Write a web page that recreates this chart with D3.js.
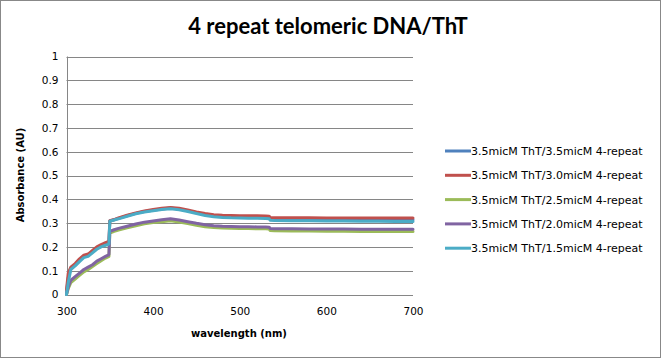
<!DOCTYPE html>
<html><head><meta charset="utf-8">
<script src="https://cdn.jsdelivr.net/npm/d3@7/dist/d3.min.js"></script>
<style>html,body{margin:0;padding:0;background:#fff;}</style>
</head><body><svg id="c" width="661" height="358"></svg>
<script>
const title = "4 repeat telomeric DNA/ThT";
const xLabel = "wavelength (nm)";
const yLabel = "Absorbance (AU)";
const seriesNames = [
  "3.5micM ThT/3.5micM 4-repeat",
  "3.5micM ThT/3.0micM 4-repeat",
  "3.5micM ThT/2.5micM 4-repeat",
  "3.5micM ThT/2.0micM 4-repeat",
  "3.5micM ThT/1.5micM 4-repeat"
];
const colors = ["#4F81BD", "#C0504D", "#9BBB59", "#8064A2", "#4BACC6"];
const xTicks = [300, 400, 500, 600, 700];
const yTicks = [0, 0.1, 0.2, 0.3, 0.4, 0.5, 0.6, 0.7, 0.8, 0.9, 1];

const wavelength = [300,302,305,310,315,320,325,330,335,340,345,348,349,350,355,360,370,380,390,400,410,420,430,440,450,460,470,480,490,500,510,520,530,534,535,540,560,580,600,620,640,660,680,700];

const s35 = [0.01,0.07,0.110,0.125,0.145,0.160,0.165,0.180,0.195,0.205,0.213,0.216,0.218,0.309,0.314,0.320,0.331,0.341,0.349,0.354,0.359,0.363,0.359,0.352,0.344,0.336,0.331,0.328,0.327,0.326,0.325,0.325,0.324,0.323,0.318,0.317,0.316,0.316,0.315,0.315,0.314,0.314,0.314,0.314];
const s30 = [0.02,0.09,0.115,0.130,0.150,0.165,0.170,0.185,0.200,0.210,0.218,0.222,0.225,0.310,0.315,0.322,0.333,0.343,0.351,0.357,0.362,0.366,0.362,0.355,0.347,0.340,0.335,0.333,0.332,0.331,0.331,0.331,0.330,0.329,0.324,0.323,0.322,0.322,0.321,0.321,0.321,0.321,0.321,0.321];
const s25 = [0.0,0.025,0.050,0.065,0.080,0.095,0.105,0.118,0.130,0.142,0.153,0.158,0.160,0.258,0.265,0.271,0.280,0.289,0.297,0.302,0.306,0.310,0.305,0.298,0.291,0.285,0.281,0.279,0.278,0.277,0.277,0.276,0.276,0.275,0.269,0.268,0.267,0.267,0.266,0.266,0.265,0.265,0.265,0.265];
const s20 = [0.0,0.030,0.060,0.075,0.090,0.105,0.115,0.125,0.140,0.150,0.160,0.165,0.168,0.265,0.272,0.278,0.287,0.296,0.304,0.309,0.314,0.318,0.313,0.306,0.299,0.293,0.289,0.287,0.286,0.285,0.285,0.284,0.284,0.283,0.277,0.276,0.276,0.275,0.275,0.275,0.274,0.274,0.274,0.274];
const s15 = [0.0,0.050,0.105,0.120,0.138,0.155,0.160,0.175,0.190,0.200,0.207,0.210,0.212,0.308,0.313,0.318,0.329,0.339,0.347,0.352,0.357,0.360,0.356,0.349,0.340,0.332,0.327,0.324,0.322,0.321,0.320,0.320,0.319,0.318,0.312,0.311,0.310,0.310,0.309,0.309,0.308,0.308,0.307,0.307];
const seriesValues = [s35, s30, s25, s20, s15];

const svg = d3.select("#c");
svg.append("rect").attr("x",0.5).attr("y",0.5).attr("width",660).attr("height",357)
  .attr("fill","#fff").attr("stroke","#888").attr("stroke-width",1);

const x = d3.scaleLinear().domain([300,700]).range([66.5,413]);
const y = d3.scaleLinear().domain([0,1]).range([294.5,56.5]);

const g = svg.append("g");
g.selectAll("line.grid").data(yTicks).join("line")
  .attr("x1", x(300)).attr("x2", x(700))
  .attr("y1", d => Math.round(y(d))+0.5).attr("y2", d => Math.round(y(d))+0.5)
  .attr("stroke","#868686").attr("stroke-width",1);
g.append("line").attr("x1",Math.round(x(300))+0.5).attr("x2",Math.round(x(300))+0.5)
  .attr("y1",y(1)).attr("y2",y(0)).attr("stroke","#868686");

const yAxis = d3.axisLeft(y).tickValues(yTicks).tickSize(0).tickPadding(8)
  .tickFormat(d => d3.format("~g")(d));
const ya = svg.append("g").attr("transform",`translate(${x(300)},0)`).call(yAxis);
ya.select(".domain").remove();
ya.selectAll("text").attr("font-family","DejaVu Sans, Verdana, sans-serif").attr("font-size","10.5px").attr("fill","#000");

const xAxis = d3.axisBottom(x).tickValues(xTicks).tickSize(0).tickPadding(13).tickFormat(d3.format("d"));
const xa = svg.append("g").attr("transform",`translate(0,${y(0)})`).call(xAxis);
xa.select(".domain").remove();
xa.selectAll("text").attr("font-family","DejaVu Sans, Verdana, sans-serif").attr("font-size","10.5px").attr("fill","#000");

const line = d3.line().x((d,i) => x(wavelength[i])).y(d => y(d));
seriesValues.forEach((vals, k) => {
  svg.append("path").datum(vals).attr("d", line)
    .attr("fill","none").attr("stroke", colors[k]).attr("stroke-width",3)
    .attr("stroke-linejoin","round").attr("stroke-linecap","round");
});

svg.append("text").attr("x",328).attr("y",34).attr("text-anchor","middle")
  .attr("font-family","Lato, 'Open Sans', sans-serif").attr("font-weight","bold")
  .attr("font-size","22px").attr("fill","#000").text(title);

svg.append("text").attr("x",239).attr("y",337).attr("text-anchor","middle")
  .attr("font-family","DejaVu Sans, Verdana, sans-serif").attr("font-weight","bold")
  .attr("font-size","10px").attr("fill","#000").text(xLabel);
svg.append("text").attr("transform","translate(24,175) rotate(-90)").attr("text-anchor","middle")
  .attr("font-family","DejaVu Sans, Verdana, sans-serif").attr("font-weight","bold")
  .attr("font-size","10px").attr("fill","#000").text(yLabel);

const lg = svg.append("g");
seriesNames.forEach((name, k) => {
  const ly = 151 + k*24.3;
  lg.append("line").attr("x1",445).attr("x2",471).attr("y1",ly).attr("y2",ly)
    .attr("stroke",colors[k]).attr("stroke-width",3);
  lg.append("text").attr("x",471).attr("y",ly+4).attr("font-family","DejaVu Sans, Verdana, sans-serif")
    .attr("font-size","11px").attr("fill","#000").text(name);
});
</script></body></html>
